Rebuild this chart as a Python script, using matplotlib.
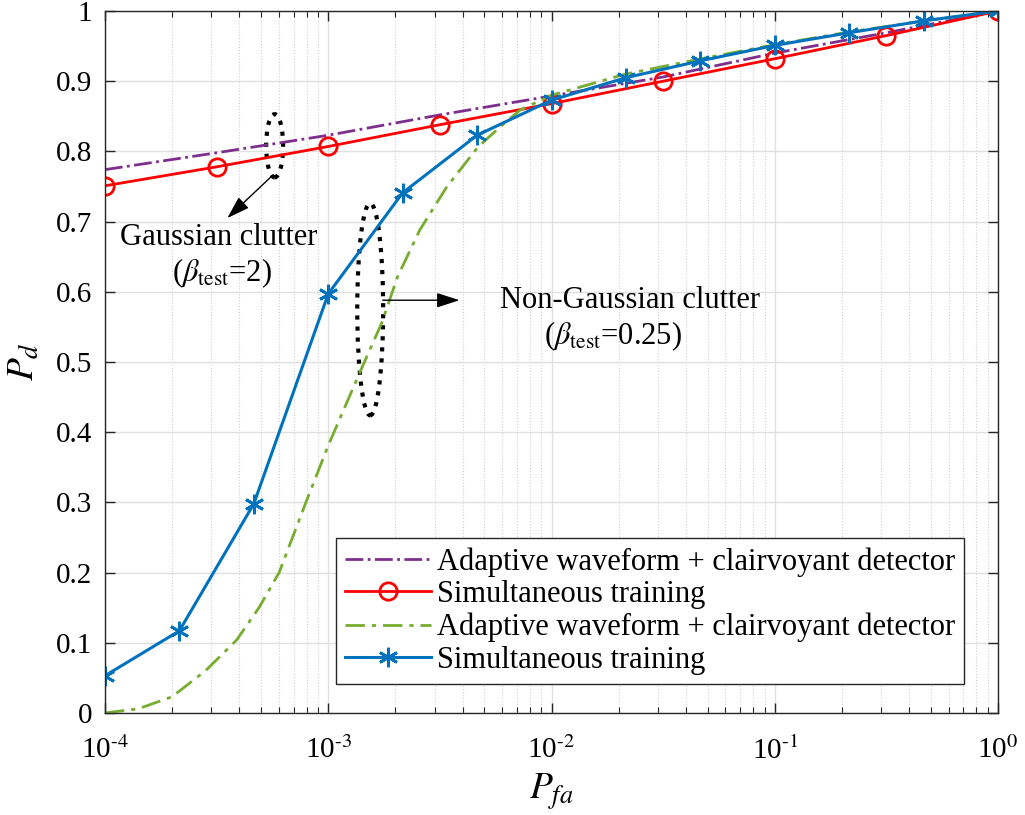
import numpy as np
import matplotlib
matplotlib.use("Agg")
import matplotlib.pyplot as plt
from matplotlib.patches import Ellipse
from matplotlib.ticker import LogLocator, NullFormatter

# Fontes estilo MATLAB / Times
plt.rcParams["font.family"] = ["Liberation Serif", "DejaVu Serif"]
plt.rcParams["mathtext.fontset"] = "stix"

# Dados
pfa_gauss = [1e-4, 10**-3.5, 1e-3, 10**-2.5, 1e-2, 10**-1.5, 1e-1, 10**-0.5, 1.0]
pd_gauss_clair = [0.774, 0.798, 0.823, 0.852, 0.879, 0.906, 0.940, 0.969, 1.0]
pd_gauss_sim = [0.751, 0.778, 0.807, 0.838, 0.868, 0.900, 0.932, 0.965, 1.0]

pfa_ng_exp = [-4.0, -3.85, -3.7, -3.55, -3.41, -3.31, -3.22, -3.10, -3.0,
              -2.86, -2.76, -2.69, -2.59, -2.47, -2.33, -2.23, -2.14, -2.0,
              -1.67, -1.33, -1.0, -0.67, -0.33, 0.0]
pd_ng_clair = [0.0, 0.006, 0.023, 0.06, 0.104, 0.15, 0.2, 0.3, 0.381,
               0.484, 0.556, 0.621, 0.688, 0.749, 0.806, 0.835, 0.859, 0.880,
               0.910, 0.932, 0.952, 0.970, 0.986, 1.0]

pfa_ng_sim = [1e-4, 2.154e-4, 4.642e-4, 1e-3, 2.154e-3, 4.642e-3, 1e-2,
              2.154e-2, 4.642e-2, 1e-1, 2.154e-1, 4.642e-1, 1.0]
pd_ng_sim = [0.053, 0.117, 0.298, 0.597, 0.741, 0.823, 0.873,
             0.905, 0.929, 0.951, 0.969, 0.986, 1.0]

legenda = ["Adaptive waveform + clairvoyant detector",
           "Simultaneous training",
           "Adaptive waveform + clairvoyant detector",
           "Simultaneous training"]

fig = plt.figure(figsize=(10.25, 8.15), dpi=100)
ax = fig.add_axes([0.1024, 0.1252, 0.8713, 0.8613])

ax.plot(pfa_gauss, pd_gauss_clair, color="#7E2F8E", lw=2, ls="-.",
        label=legenda[0])
ax.plot(pfa_gauss, pd_gauss_sim, color="#FF0000", lw=2, marker="o",
        ms=12.5, mfc="none", mew=2, label=legenda[1])
ax.plot(10.0 ** np.array(pfa_ng_exp), pd_ng_clair, color="#77AC30", lw=2,
        dashes=(7, 2.5, 1.5, 2.5), label=legenda[2])
ax.plot(pfa_ng_sim, pd_ng_sim, color="#0072BD", lw=2.2, marker=(6, 2, 0),
        ms=14, mew=2, label=legenda[3])

ax.set_xscale("log")
ax.set_xlim(1e-4, 1)
ax.set_ylim(0, 1)
ax.set_yticks(np.arange(0, 1.01, 0.1))
ax.set_yticklabels(["0", "0.1", "0.2", "0.3", "0.4", "0.5",
                    "0.6", "0.7", "0.8", "0.9", "1"])
ax.set_xticks([1e-4, 1e-3, 1e-2, 1e-1, 1])
ax.set_xticklabels([r"10$^{\text{-4}}$", r"10$^{\text{-3}}$",
                    r"10$^{\text{-2}}$", r"10$^{\text{-1}}$",
                    r"10$^{\text{0}}$"])
ax.xaxis.set_minor_locator(LogLocator(base=10, subs=np.arange(2, 10)))
ax.xaxis.set_minor_formatter(NullFormatter())

# Grade estilo MATLAB
ax.grid(True, which="major", color="#e0e0e0", lw=1, ls="-")
ax.grid(True, which="minor", axis="x", color="#d0d0d0", lw=0.8, ls=":")
ax.set_axisbelow(True)

ax.tick_params(which="both", direction="in", top=True, right=True,
               labelsize=21, colors="#262626")
ax.tick_params(which="major", length=7, width=1)
ax.tick_params(which="minor", length=4, width=0.8)
ax.tick_params(axis="y", pad=9)
ax.tick_params(axis="x", pad=17)
for lado in ax.spines.values():
    lado.set_color("#262626")
    lado.set_linewidth(1)
for rotulo in ax.get_xticklabels() + ax.get_yticklabels():
    rotulo.set_color("black")

ax.set_xlabel(r"$P_{fa}$", fontsize=27, labelpad=5)
ax.set_ylabel(r"$P_d$", fontsize=27, labelpad=10)

# Elipses pontilhadas
ax.add_patch(Ellipse((0.190, 0.808), 0.019, 0.09, transform=ax.transAxes,
                     fill=False, ls=":", lw=3, color="black"))
ax.add_patch(Ellipse((0.297, 0.575), 0.029, 0.302, transform=ax.transAxes,
                     fill=False, ls=":", lw=3, color="black"))

seta = dict(arrowstyle="-|>,head_length=1.4,head_width=0.45", lw=1,
            color="black", shrinkA=0, shrinkB=0)
ax.annotate("", xy=(0.137, 0.705), xytext=(0.187, 0.765),
            xycoords="axes fraction", arrowprops=seta)
ax.annotate("", xy=(0.397, 0.588), xytext=(0.311, 0.588),
            xycoords="axes fraction", arrowprops=seta)

ax.text(0.127, 0.678, "Gaussian clutter", transform=ax.transAxes,
        fontsize=22, ha="center", va="center")
ax.text(0.131, 0.626, r"($\beta_{\mathrm{test}}$=2)", transform=ax.transAxes,
        fontsize=22, ha="center", va="center")
ax.text(0.588, 0.588, "Non-Gaussian clutter", transform=ax.transAxes,
        fontsize=22, ha="center", va="center")
ax.text(0.569, 0.536, r"($\beta_{\mathrm{test}}$=0.25)",
        transform=ax.transAxes, fontsize=22, ha="center", va="center")

leg = ax.legend(loc="lower right", bbox_to_anchor=(0.962, 0.041), fontsize=22,
                handlelength=2.8, handletextpad=0.2, labelspacing=0.12,
                borderpad=0.3, borderaxespad=0, fancybox=False, framealpha=1,
                edgecolor="#262626")
leg.get_frame().set_linewidth(1)

fig.savefig("out.png", dpi=100)
